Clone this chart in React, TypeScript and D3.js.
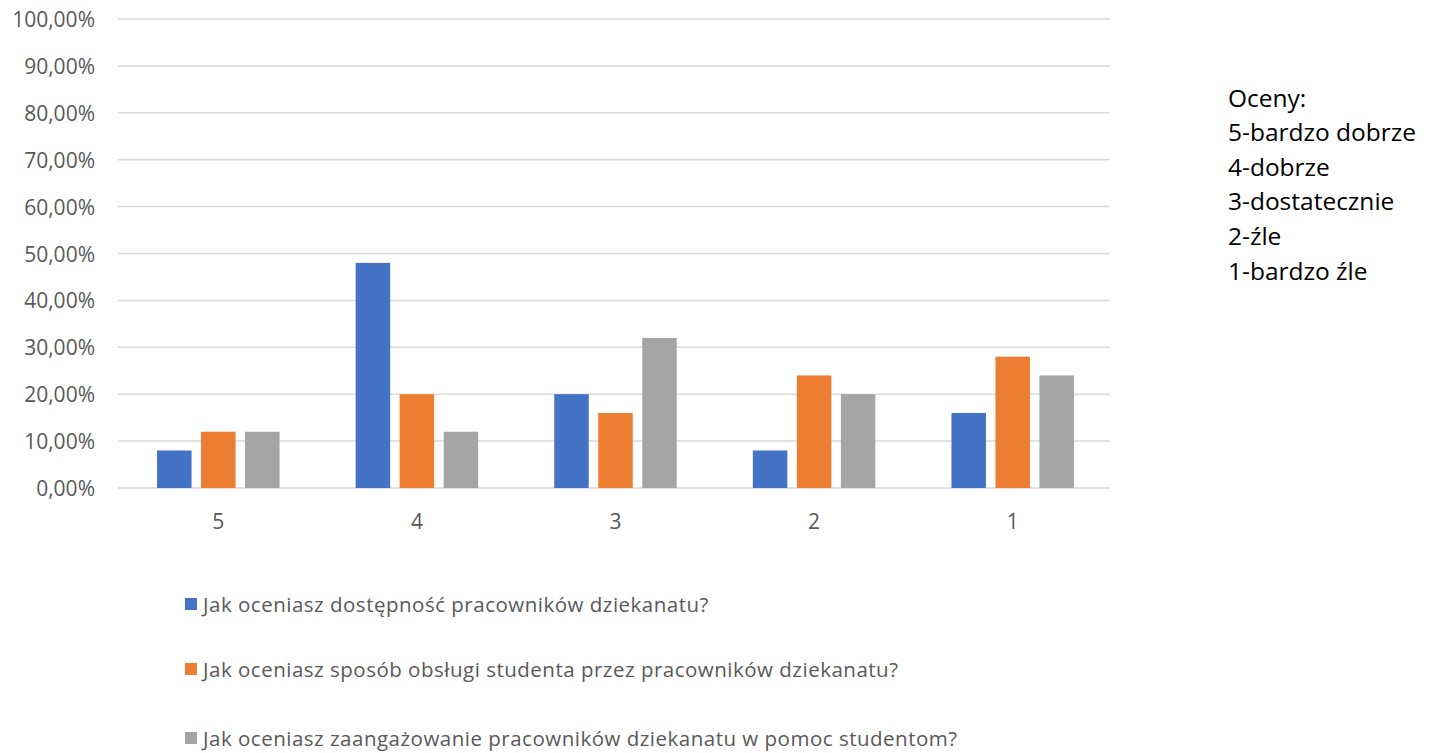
import React from "react";
import * as d3 from "d3";

const categories = ["5", "4", "3", "2", "1"];
const seriesNames = [
  "Jak oceniasz dostępność pracowników dziekanatu?",
  "Jak oceniasz sposób obsługi studenta przez pracowników dziekanatu?",
  "Jak oceniasz zaangażowanie pracowników dziekanatu w pomoc studentom?",
];
const dostepnosc = [0.08, 0.48, 0.2, 0.08, 0.16];
const obsluga = [0.12, 0.2, 0.16, 0.24, 0.28];
const zaangazowanie = [0.12, 0.12, 0.32, 0.2, 0.24];
const seriesValues = [dostepnosc, obsluga, zaangazowanie];
const colors = ["#4472C4", "#ED7D31", "#A5A5A5"];
const yTicks = [0, 0.1, 0.2, 0.3, 0.4, 0.5, 0.6, 0.7, 0.8, 0.9, 1.0];
const notes = ["Oceny:", "5-bardzo dobrze", "4-dobrze", "3-dostatecznie", "2-źle", "1-bardzo źle"];

const W = 1439;
const H = 753;
const FONT = "'Open Sans', 'Liberation Sans', sans-serif";

export default function App() {
  const x0 = d3.scaleBand<string>().domain(categories).range([119, 1112]);
  const x1 = d3
    .scaleBand<number>()
    .domain([0, 1, 2])
    .range([0, 122.5])
    .paddingInner(0.216);
  const y = d3.scaleLinear().domain([0, 1]).range([488, 19]);
  const fmt = (v: number) => (v * 100).toFixed(2).replace(".", ",") + "%";

  return (
    <svg
      width={W}
      height={H}
      style={{ position: "absolute", left: 0, top: 0, background: "#fff" }}
      fontFamily={FONT}
    >
      {yTicks.map((t) => (
        <g key={t}>
          <line x1={118} x2={1110} y1={y(t)} y2={y(t)} stroke="#D9D9D9" strokeWidth={1.5} />
          <text
            x={95}
            y={y(t)}
            textAnchor="end"
            dominantBaseline="central"
            fontSize={21}
            fill="#595959"
          >
            {fmt(t)}
          </text>
        </g>
      ))}
      {categories.map((c, ci) => {
        const cx = (x0(c) as number) + x0.bandwidth() / 2;
        const gx = cx - 61.25;
        return (
          <g key={c}>
            {seriesValues.map((vals, si) => (
              <rect
                key={si}
                x={gx + (x1(si) as number)}
                y={y(vals[ci])}
                width={x1.bandwidth()}
                height={y(0) - y(vals[ci])}
                fill={colors[si]}
              />
            ))}
            <text
              x={cx}
              y={521}
              textAnchor="middle"
              dominantBaseline="central"
              fontSize={21}
              fill="#595959"
            >
              {c}
            </text>
          </g>
        );
      })}
      {seriesNames.map((n, i) => {
        const ly = [604, 669, 738][i];
        return (
          <g key={n}>
            <rect x={185} y={ly - 6} width={12} height={12} fill={colors[i]} />
            <text
              x={203}
              y={ly}
              dominantBaseline="central"
              fontSize={20.5}
              letterSpacing={0.5}
              fill="#595959"
            >
              {n}
            </text>
          </g>
        );
      })}
      {notes.map((t, i) => (
        <text
          key={t}
          x={1228}
          y={97 + i * 34.6}
          dominantBaseline="central"
          fontSize={24.5}
          fill="#000"
        >
          {t}
        </text>
      ))}
    </svg>
  );
}
